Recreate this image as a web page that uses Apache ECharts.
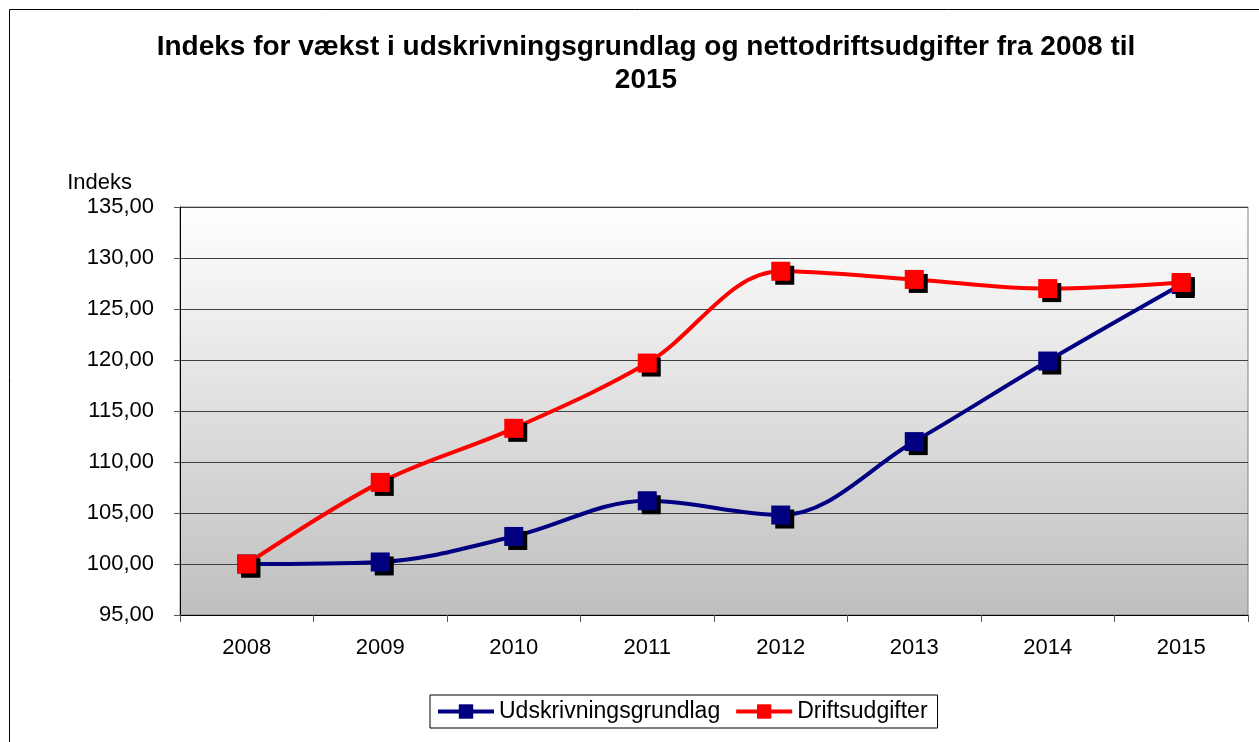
<!DOCTYPE html>
<html>
<head>
<meta charset="utf-8">
<script src="https://cdn.jsdelivr.net/npm/echarts@6/dist/echarts.min.js"></script>
<style>
  html, body { margin: 0; padding: 0; background: #fff; }
  #main { width: 1259px; height: 742px; }
</style>
</head>
<body>
<div id="main"></div>
<script>
// data
const years = ["2008", "2009", "2010", "2011", "2012", "2013", "2014", "2015"];
const udskrivning = [100.0, 100.2, 102.7, 106.2, 104.8, 112.0, 119.9, 127.4];
const drift = [100.0, 108.0, 113.3, 119.7, 128.7, 127.9, 127.0, 127.6];

const font = "Liberation Sans, Arial, sans-serif";
const markShadow = { shadowColor: "#000", shadowOffsetX: 4, shadowOffsetY: 4, shadowBlur: 0 };

const chart = echarts.init(document.getElementById("main"));
chart.setOption({
  animation: false,
  textStyle: { fontFamily: font },
  title: {
    text: "Indeks for vækst i udskrivningsgrundlag og nettodriftsudgifter fra 2008 til\n2015",
    left: 641, textAlign: "center", top: 26,
    textStyle: { fontSize: 28, fontWeight: "bold", color: "#000", lineHeight: 33, fontFamily: font }
  },
  graphic: [{
    type: "rect", left: 7, top: 7, silent: true,
    shape: { width: 1270, height: 760 },
    style: { fill: "none", stroke: "#000", lineWidth: 1 }
  }],
  grid: {
    left: 180, right: 11, top: 207, bottom: 127,
    show: true, borderColor: "#808080", borderWidth: 1,
    backgroundColor: new echarts.graphic.LinearGradient(0, 0, 0, 1, [
      { offset: 0, color: "#ffffff" },
      { offset: 1, color: "#bfbfbf" }
    ])
  },
  legend: {
    bottom: 14, left: 430,
    itemWidth: 56, itemHeight: 18, itemGap: 14,
    padding: [5, 10, 5, 6],
    borderColor: "#000", borderWidth: 1,
    lineStyle: { width: 4 },
    textStyle: { fontSize: 23, color: "#000", fontFamily: font },
    data: ["Udskrivningsgrundlag", "Driftsudgifter"]
  },
  xAxis: {
    type: "category", data: years, boundaryGap: true,
    axisLine: { lineStyle: { color: "#000", width: 1 } },
    axisTick: { show: true, length: 7, lineStyle: { color: "#555" } },
    axisLabel: { fontSize: 22, color: "#000", margin: 22 }
  },
  yAxis: {
    type: "value", min: 95, max: 135, interval: 5,
    name: "Indeks", nameLocation: "end", nameGap: 13,
    nameTextStyle: { fontSize: 22, color: "#000", align: "right", padding: [0, 48, 0, 0] },
    axisLine: { show: true, lineStyle: { color: "#000", width: 1 } },
    axisTick: { show: true, length: 6, lineStyle: { color: "#555" } },
    axisLabel: {
      fontSize: 22, color: "#000", margin: 26,
      formatter: v => v.toFixed(2).replace(".", ",")
    },
    splitLine: { lineStyle: { color: "#404040", width: 1 } }
  },
  series: [
    {
      name: "Udskrivningsgrundlag", type: "line", data: udskrivning,
      smooth: 0.35, symbol: "rect", symbolSize: 19,
      lineStyle: { color: "#000080", width: 4 },
      itemStyle: Object.assign({ color: "#000080" }, markShadow)
    },
    {
      name: "Driftsudgifter", type: "line", data: drift,
      smooth: 0.35, symbol: "rect", symbolSize: 19,
      lineStyle: { color: "#ff0000", width: 4 },
      itemStyle: Object.assign({ color: "#ff0000" }, markShadow)
    }
  ]
});
</script>
</body>
</html>
